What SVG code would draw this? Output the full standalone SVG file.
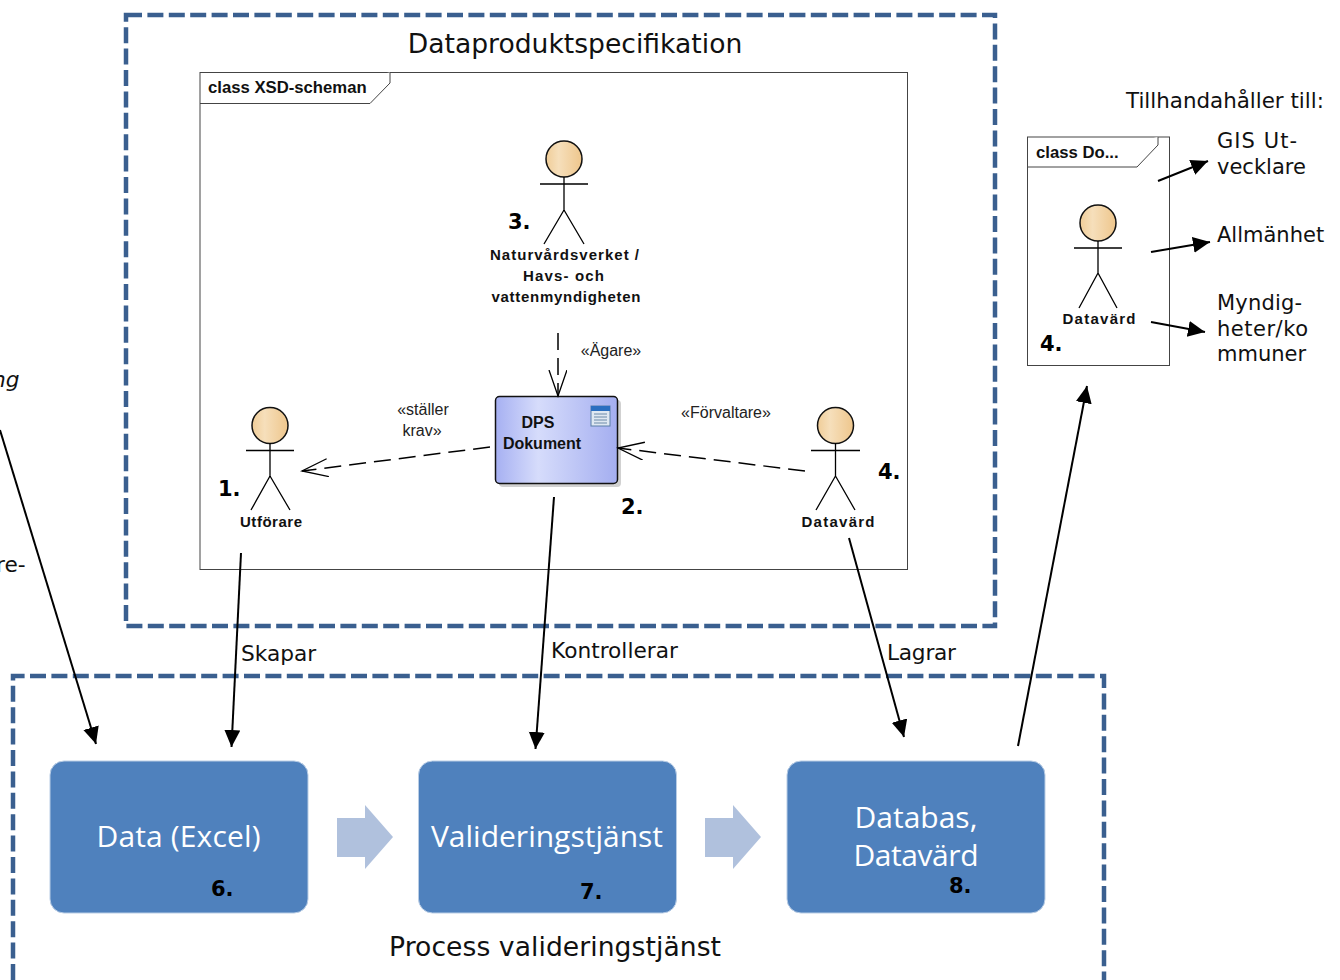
<svg xmlns="http://www.w3.org/2000/svg" width="1340" height="980" viewBox="0 0 1340 980">
<defs>
<linearGradient id="skin" x1="0" x2="1" y1="0" y2="0"><stop offset="0" stop-color="#f0cd98"/><stop offset="0.35" stop-color="#f6dfbb"/><stop offset="1" stop-color="#eec68c"/></linearGradient>
<linearGradient id="doc" x1="0" x2="1" y1="0" y2="0"><stop offset="0" stop-color="#a6b0f2"/><stop offset="0.35" stop-color="#d6dcfb"/><stop offset="1" stop-color="#a4aef0"/></linearGradient>
<marker id="solid" markerUnits="userSpaceOnUse" markerWidth="20" markerHeight="18" refX="17" refY="8" orient="auto"><path d="M0 0L17 8L0 16Z" fill="#000"/></marker>
<marker id="open" markerUnits="userSpaceOnUse" markerWidth="30" markerHeight="22" refX="26" refY="9" orient="auto"><path d="M0 0L26 9L0 18" fill="none" stroke="#000" stroke-width="1.3"/></marker>
</defs>
<style>
text{font-family:"DejaVu Sans",Verdana,sans-serif;fill:#111}
.region{fill:none;stroke:#3a5f8f;stroke-width:4.5;stroke-dasharray:16 5.4}
.frame{fill:#fff;stroke:#444;stroke-width:1}
.tab{fill:#fff;stroke:#444;stroke-width:1}
.head{fill:url(#skin);stroke:#111;stroke-width:1.5}
.fig{fill:none;stroke:#000;stroke-width:1.3}
.ea{font-family:"Liberation Sans",Arial,sans-serif;font-weight:700;font-size:15px;text-anchor:middle}
.tag{font-family:"Liberation Sans",Arial,sans-serif;font-size:16px;text-anchor:middle;fill:#222}
.cls{font-family:"Liberation Sans",Arial,sans-serif;font-weight:700;font-size:16.700px}
.num{font-size:21px;font-weight:700;fill:#000}
.lab{font-size:21.700px}
.side{font-size:21px}
.title{font-size:26.600px}
.box{fill:#4f81bd;stroke:#b9cde5;stroke-width:1}
.boxt{font-family:"Open Sans","Noto Sans",sans-serif;font-size:30px;fill:#fff;text-anchor:middle}
.chev{fill:#b0c1dd}
.line{fill:none;stroke:#000;stroke-width:2;marker-end:url(#solid)}
.dash{fill:none;stroke:#000;stroke-width:1.5;stroke-dasharray:17 8;marker-end:url(#open)}
</style>

<g id="dps-region"><rect class="region" x="126" y="15" width="869" height="611"/><text class="title" x="575" y="53" text-anchor="middle">Dataproduktspecifikation</text></g>
<g id="xsd-frame"><rect class="frame" x="200" y="72.500" width="707.500" height="497"/><path class="tab" d="M200 103.500H370L390 83V72.500"/><text class="cls" x="208" y="93">class XSD-scheman</text></g>
<g id="process-region"><path class="region" d="M13 980V676H1104V980"/><text class="title" x="555" y="956" text-anchor="middle" textLength="332">Process valideringstjänst</text></g>

<g id="actor-3"><circle class="head" cx="564" cy="159" r="18"/><path class="fig" d="M564 177V210M540 184H588M564 210L544 244M564 210L584 244"/><text class="num" x="508" y="229">3.</text><text class="ea" x="564.500" y="260" textLength="149">Naturvårdsverket /</text><text class="ea" x="563.500" y="281" textLength="81">Havs- och</text><text class="ea" x="566" y="302" textLength="149">vattenmyndigheten</text></g>
<g id="actor-1"><circle class="head" cx="270" cy="425.500" r="18"/><path class="fig" d="M270 443V476M246 450.500H294M270 476L251 510M270 476L290 510"/><text class="num" x="218" y="496">1.</text><text class="ea" x="271" y="527" textLength="62">Utförare</text></g>
<g id="actor-4"><circle class="head" cx="835.500" cy="425.500" r="18"/><path class="fig" d="M835.500 443V476M811 450.500H860M835.500 476L816 510M835.500 476L855 510"/><text class="num" x="878" y="479">4.</text><text class="ea" x="838" y="527" textLength="73">Datavärd</text></g>
<g id="dps-doc"><rect x="499" y="400" width="122" height="87" rx="4" fill="#9a9a9a" opacity="0.45"/><rect x="495.500" y="396.500" width="122" height="87" rx="4" fill="url(#doc)" stroke="#111" stroke-width="1.5"/><rect x="591" y="406" width="19" height="20" fill="#dfe8f2" stroke="#5a7ea8"/><rect x="591" y="406" width="19" height="5" fill="#2b6fc0"/><path d="M594 414H607M594 417H607M594 420H607M594 423H607" stroke="#6d8aa8"/><text class="ea" style="font-size:16px" x="538" y="428">DPS</text><text class="ea" style="font-size:16px" x="542" y="449">Dokument</text><text class="num" x="621" y="514">2.</text></g>

<g id="data-box"><rect class="box" x="50" y="761" width="258" height="152" rx="14"/><text class="boxt" x="178.500" y="847" textLength="164">Data (Excel)</text><text class="num" x="211" y="896">6.</text></g>
<g id="validation-box"><rect class="box" x="418.500" y="761" width="258" height="152" rx="14"/><text class="boxt" x="547" y="847">Valideringstjänst</text><text class="num" x="580" y="899">7.</text></g>
<g id="database-box"><rect class="box" x="787" y="761" width="258" height="152" rx="14"/><text class="boxt" x="916" y="828">Databas,</text><text class="boxt" x="916" y="866" textLength="125">Datavärd</text><text class="num" x="949" y="893">8.</text></g>
<path id="chevron-1" class="chev" d="M337 818H365V805L393 837L365 869V857H337Z"/>
<path id="chevron-2" class="chev" d="M705 818H733V805L761 837L733 869V857H705Z"/>

<g id="doc-frame"><rect class="frame" x="1027.500" y="137" width="142" height="228.500"/><path class="tab" d="M1027.500 167H1137L1158 145V137"/><text class="cls" x="1036" y="158">class Do...</text></g>
<g id="actor-4b"><circle class="head" cx="1098" cy="223" r="18"/><path class="fig" d="M1098 241V273M1074 248H1122M1098 273L1079 308M1098 273L1117 308"/><text class="ea" x="1099" y="324" textLength="73">Datavärd</text><text class="num" x="1040" y="351">4.</text></g>
<g id="provide-labels">
<text class="side" style="font-size:21.400px" x="1126" y="108">Tillhandahåller till:</text>
<text class="side" x="1217" y="148" textLength="80">GIS Ut-</text><text class="side" x="1217" y="174">vecklare</text>
<text class="side" x="1217" y="242">Allmänhet</text>
<text class="side" x="1217" y="310" textLength="85">Myndig-</text><text class="side" x="1217" y="336" textLength="91">heter/ko</text><text class="side" x="1217" y="361">mmuner</text>
</g>
<g id="edge-labels">
<text class="tag" x="611" y="356">«Ägare»</text>
<text class="tag" x="423" y="415">«ställer</text><text class="tag" x="422" y="436">krav»</text>
<text class="tag" x="726" y="418">«Förvaltare»</text>
<text class="lab" x="241" y="661">Skapar</text><text class="lab" x="551" y="658">Kontrollerar</text><text class="lab" x="887" y="660" textLength="69">Lagrar</text>
<text class="lab" x="-8" y="387" font-style="italic">ng</text><text class="lab" x="-4" y="572">re-</text>
</g>

<g id="connectors">
<path class="dash" d="M558 333V396"/>
<path class="dash" d="M490 447L302 471"/>
<path class="dash" d="M805 471L618 448"/>
<path class="line" d="M241 553L231.500 747"/>
<path class="line" d="M554 497L535.500 749"/>
<path class="line" d="M849 538L904 737"/>
<path class="line" d="M0 430L96 744"/>
<path class="line" d="M1018 746L1087 386"/>
<path class="line" d="M1158 181L1208 161"/>
<path class="line" d="M1151 252L1210 242"/>
<path class="line" d="M1151 322L1205 332"/>
</g>
</svg>
